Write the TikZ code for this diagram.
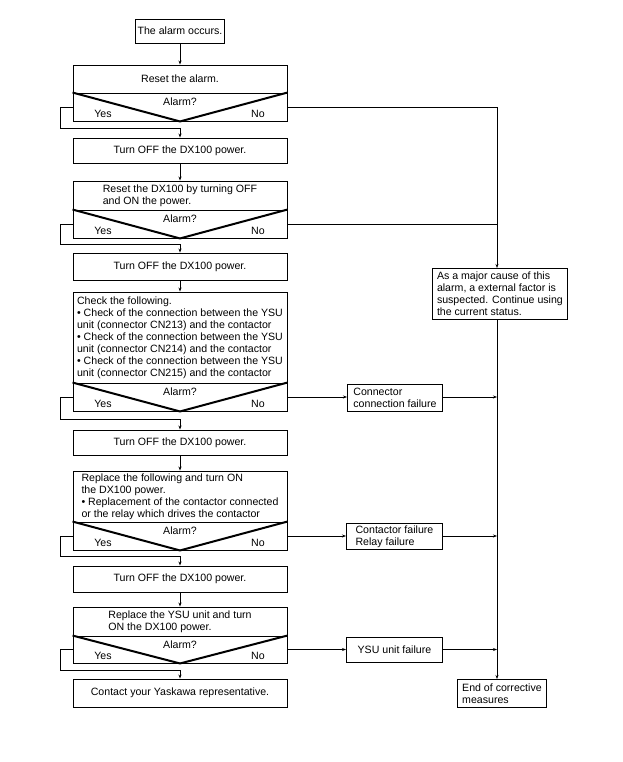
\documentclass[tikz,border=0pt]{standalone}
\usepackage{fontspec}
\setmainfont{Liberation Sans}
\usetikzlibrary{arrows.meta,positioning}

\begin{document}
\begin{tikzpicture}[x=1pt,y=-1pt,
  every node/.style={font=\fontsize{10.6}{12}\selectfont,inner sep=2pt},
  box/.style={draw,line width=0.9pt,minimum width=214pt,align=left},
  ask/.style={draw,line width=0.9pt,minimum width=214pt,minimum height=28pt},
  res/.style={draw,line width=0.9pt,align=left,anchor=north west,inner ysep=1pt,inner xsep=1.5pt},
  line/.style={line width=0.8pt},
  arr/.style={line width=0.8pt,-{Stealth[length=4pt,width=3pt]}},
  vee/.style={line width=2pt}]
\useasboundingbox (0,0) rectangle (622,762);
% main column
\node[box,minimum width=84pt,minimum height=24pt] (start) at (180,31) {The alarm occurs.};
\node[box,minimum height=28pt] (r1) at (180,79) {Reset the alarm.};
\node[ask] (d1) at (180,107) {};
\node[box,minimum height=25pt] (t1) at (180,150.5) {Turn OFF the DX100 power.};
\node[box,minimum height=29pt] (r2) at (180,195.5) {Reset the DX100 by turning OFF\\and ON the power.};
\node[ask] (d2) at (180,224) {};
\node[box,minimum height=27pt] (t2) at (180,266.5) {Turn OFF the DX100 power.};
\node[box,minimum height=91pt,inner xsep=1pt] (r3) at (180,337.5) {Check the following.\\
  • Check of the connection between the YSU\\unit (connector CN213) and the contactor\\
  • Check of the connection between the YSU\\unit (connector CN214) and the contactor\\
  • Check of the connection between the YSU\\unit (connector CN215) and the contactor};
\node[ask] (d3) at (180,397) {};
\node[box,minimum height=25pt] (t3) at (180,442.5) {Turn OFF the DX100 power.};
\node[box,minimum height=51pt] (r4) at (180,496.5) {Replace the following and turn ON\\the DX100 power.\\
  • Replacement of the contactor connected\\or the relay which drives the contactor};
\node[ask] (d4) at (180,536) {};
\node[box,minimum height=26pt] (t4) at (180,579) {Turn OFF the DX100 power.};
\node[box,minimum height=29pt] (r5) at (180,621.5) {Replace the YSU unit and turn\\ON the DX100 power.};
\node[ask,minimum height=27pt] (d5) at (180,649.5) {};
\node[box,minimum height=28pt] (fin) at (180,693) {Contact your Yaskawa representative.};
% decisions
\foreach \d in {d1,d2,d3,d4,d5}{
  \draw[vee] (\d.north west) -- (\d.south) -- (\d.north east);
  \node at ([yshift=5pt]\d.center) {Alarm?};
  \node at ([xshift=-77pt,yshift=-6.5pt]\d.center) {Yes};
  \node at ([xshift=78pt,yshift=-6.5pt]\d.center) {No};
}
% right column
\coordinate (bus) at (497,107);
\node[res,minimum width=135pt,minimum height=51pt] (cause) at (432,268) {As a major cause of this\\alarm, a external factor is\\suspected. Continue using\\the current status.};
\node[res,minimum width=95pt,minimum height=27pt] (conn) at (347,384) {Connector\\connection failure};
\node[res,minimum width=96pt,minimum height=26pt] (cont) at (346,523) {Contactor failure\\Relay failure};
\node[res,minimum width=96pt,minimum height=25pt,align=center] (ysu) at (346,637) {YSU unit failure};
\node[res,minimum width=89pt,minimum height=28pt] (end) at (457,679) {End of corrective\\measures};
% main flow
\draw[arr] (start) -- (r1);
\draw[arr] (t1) -- (r2);
\draw[arr] (t2) -- (r3);
\draw[arr] (t3) -- (r4);
\draw[arr] (t4) -- (r5);
\draw[arr] (d1.west) -- ++(-12,0) |- ([yshift=9pt]t1.north) -- (t1.north);
\draw[arr] (d2.west) -- ++(-12,0) |- ([yshift=8pt]t2.north) -- (t2.north);
\draw[arr] (d3.west) -- ++(-12,0) |- ([yshift=10pt]t3.north) -- (t3.north);
\draw[arr] (d4.west) -- ++(-12,0) |- ([yshift=9pt]t4.north) -- (t4.north);
\draw[arr] (d5.west) -- ++(-12,0) |- ([yshift=8pt]fin.north) -- (fin.north);
% no branches
\draw[arr] (d1.east) -| (cause.north -| bus);
\draw[line] (d2.east) -- (d2.east -| bus);
\draw[arr] (d3.east) -- (d3.east -| conn.west);
\draw[arr] (d4.east) -- (d4.east -| cont.west);
\draw[arr] (d5.east) -- (d5.east -| ysu.west);
\draw[arr] (conn.east |- d3.east) -- (d3.east -| bus);
\draw[arr] (cont.east |- d4.east) -- (d4.east -| bus);
\draw[arr] (ysu.east |- d5.east) -- (d5.east -| bus);
\draw[arr] (cause.south -| bus) -- (end.north -| bus);
\end{tikzpicture}
\end{document}
